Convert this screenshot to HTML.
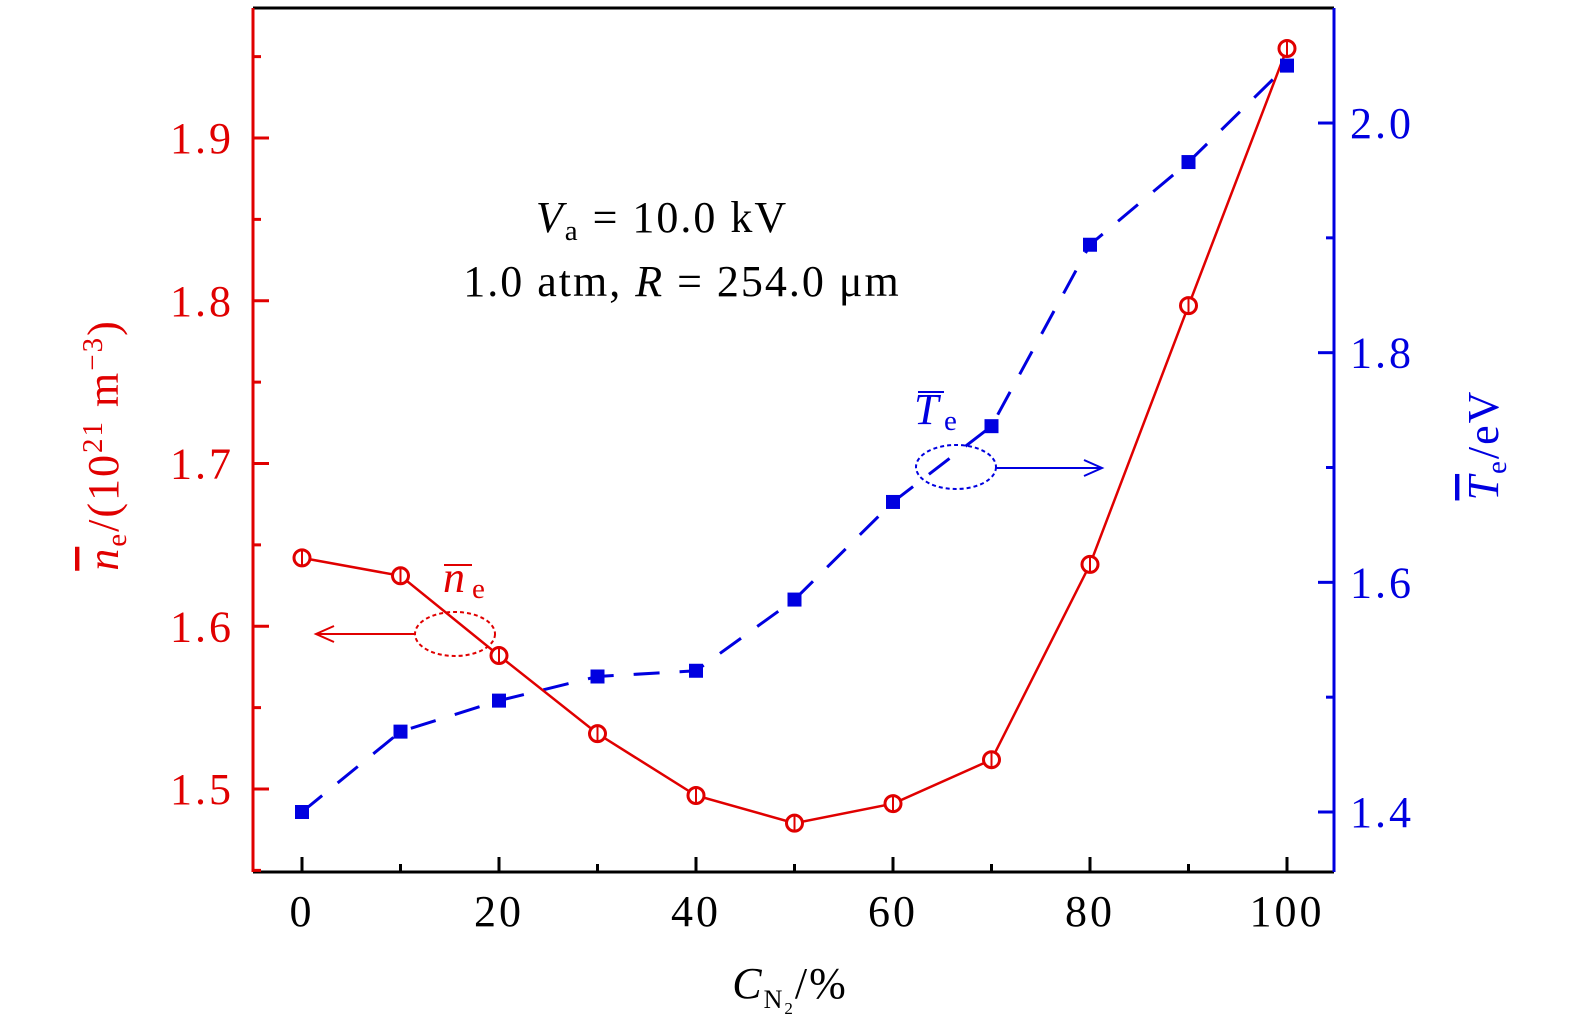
<!DOCTYPE html>
<html><head><meta charset="utf-8"><style>
body{margin:0;background:#fff}
svg{display:block;font-family:"Liberation Serif",serif}
.ol{text-decoration:overline}
</style></head><body>
<svg id="chart" width="1575" height="1033" viewBox="0 0 1575 1033">
<g id="axes"></g>
<g id="series"></g>
<text x="662" y="232" font-size="44" letter-spacing="2" text-anchor="middle"><tspan font-style="italic">V</tspan><tspan font-size="29" dy="8">a</tspan><tspan dy="-8"> = 10.0 kV</tspan></text>
<text x="682" y="296" font-size="44" letter-spacing="2" text-anchor="middle">1.0 atm, <tspan font-style="italic">R</tspan> = 254.0 μm</text>
<g fill="#e00000" stroke="#e00000">
<line x1="444" y1="565" x2="472" y2="565" stroke-width="2"/>
<text x="443" y="592" font-size="44" font-style="italic" stroke="none">n</text>
<text x="472" y="598" font-size="29" stroke="none">e</text>
<ellipse cx="455" cy="634" rx="40" ry="22" fill="none" stroke-width="2" stroke-dasharray="4,3"/>
<line x1="414" y1="634" x2="318" y2="634" stroke-width="2"/>
<polyline points="334,626 316,634 334,642" fill="none" stroke-width="2"/>
</g>
<g fill="#0000e0" stroke="#0000e0">
<line x1="918" y1="392" x2="944" y2="392" stroke-width="2"/>
<text x="914" y="424" font-size="44" font-style="italic" stroke="none">T</text>
<text x="944" y="430" font-size="29" stroke="none">e</text>
<ellipse cx="956" cy="467" rx="40" ry="22" fill="none" stroke-width="2" stroke-dasharray="4,3"/>
<line x1="996" y1="468" x2="1100" y2="468" stroke-width="2"/>
<polyline points="1084,460 1102,468 1084,476" fill="none" stroke-width="2"/>
</g>
<text x="790" y="998" font-size="44" letter-spacing="2" text-anchor="middle"><tspan font-style="italic">C</tspan><tspan font-size="26" dy="10">N</tspan><tspan font-size="17" dy="6">2</tspan><tspan dy="-16">/%</tspan></text>
<text transform="translate(118,445) rotate(-90)" font-size="44" letter-spacing="2" text-anchor="middle" fill="#e00000"><tspan font-style="italic" class="ol">n</tspan><tspan font-size="29" dy="8">e</tspan><tspan dy="-8">/(10</tspan><tspan font-size="29" dy="-16">21</tspan><tspan dy="16"> m</tspan><tspan font-size="29" dy="-16">−3</tspan><tspan dy="16">)</tspan></text>
<text transform="translate(1498,445) rotate(-90)" font-size="44" letter-spacing="2" text-anchor="middle" fill="#0000e0"><tspan font-style="italic" class="ol">T</tspan><tspan font-size="29" dy="8">e</tspan><tspan dy="-8">/eV</tspan></text>
</svg>
<script>
const xCats=[0,10,20,30,40,50,60,70,80,90,100];
const neVals=[1.642,1.631,1.582,1.534,1.496,1.479,1.491,1.518,1.638,1.797,1.955];
const teVals=[1.400,1.470,1.497,1.518,1.523,1.585,1.670,1.736,1.894,1.966,2.050];
const xTicks=[0,20,40,60,80,100];
const leftTicks=[1.5,1.6,1.7,1.8,1.9];
const rightTicks=[1.4,1.6,1.8,2.0];
const NS='http://www.w3.org/2000/svg';
const L=253,R=1334,T=8,B=872;
const xs=v=>302+(v-0)*9.85;
const yl=v=>789-(v-1.5)*1627.5;
const yr=v=>812-(v-1.4)*1148.3;
function mk(p,tag,a){const e=document.createElementNS(NS,tag);for(const k in a)e.setAttribute(k,a[k]);p.appendChild(e);return e;}
const ax=document.getElementById('axes'),se=document.getElementById('series');
let e;
e=mk(ax,'line',{x1:L,y1:T,x2:R,y2:T,stroke:'#000','stroke-width':3});


e=mk(ax,'line',{x1:L,y1:B,x2:R,y2:B,stroke:'#000','stroke-width':3});


e=mk(ax,'line',{x1:L,y1:T,x2:L,y2:B,stroke:'#e00000','stroke-width':3});


e=mk(ax,'line',{x1:R,y1:T,x2:R,y2:B,stroke:'#0000e0','stroke-width':3});


for(let v=0;v<=100;v+=10){const x=xs(v),len=v%20===0?15:8;
 e=mk(ax,'line',{x1:x,y1:B,x2:x,y2:B-len,stroke:'#000','stroke-width':3});
 
 }
xTicks.forEach(v=>{e=mk(ax,'text',{x:xs(v),y:926,'font-size':44,'letter-spacing':3,'text-anchor':'middle'});e.textContent=v;
 
 });
for(let v=1.45;v<=1.96;v+=0.05){const y=yl(v),maj=Math.abs(v*10-Math.round(v*10))<0.01;
 e=mk(ax,'line',{x1:L,y1:y,x2:L+(maj?16:8),y2:y,stroke:'#e00000','stroke-width':3});
 
 }
leftTicks.forEach(v=>{e=mk(ax,'text',{x:234,y:yl(v)+15,'font-size':44,'letter-spacing':3,'text-anchor':'end',fill:'#e00000'});e.textContent=v.toFixed(1);
 
 });
for(let v=1.4;v<=2.06;v+=0.1){const y=yr(v),maj=Math.round(v*10)%2===0;
 e=mk(ax,'line',{x1:R,y1:y,x2:R-(maj?16:8),y2:y,stroke:'#0000e0','stroke-width':3});
 
 }
rightTicks.forEach(v=>{e=mk(ax,'text',{x:1350,y:yr(v)+15,'font-size':44,'letter-spacing':3,fill:'#0000e0'});e.textContent=v.toFixed(1);
 
 });
e=mk(se,'polyline',{points:xCats.map((c,i)=>xs(c)+','+yr(teVals[i])).join(' '),fill:'none',stroke:'#0000e0','stroke-width':3,'stroke-dasharray':'26,20'});


e=mk(se,'polyline',{points:xCats.map((c,i)=>xs(c)+','+yl(neVals[i])).join(' '),fill:'none',stroke:'#e00000','stroke-width':2.5});


xCats.forEach((c,i)=>{e=mk(se,'rect',{x:xs(c)-7,y:yr(teVals[i])-7,width:14,height:14,fill:'#0000e0'});
 
 });
xCats.forEach((c,i)=>{const x=xs(c),y=yl(neVals[i]);
 e=mk(se,'circle',{cx:x,cy:y,r:8,fill:'#fff',stroke:'#e00000','stroke-width':3});
 
 
 mk(se,'line',{x1:x,y1:y-7,x2:x,y2:y+7,stroke:'#e00000','stroke-width':2});});
</script>
</body></html>
